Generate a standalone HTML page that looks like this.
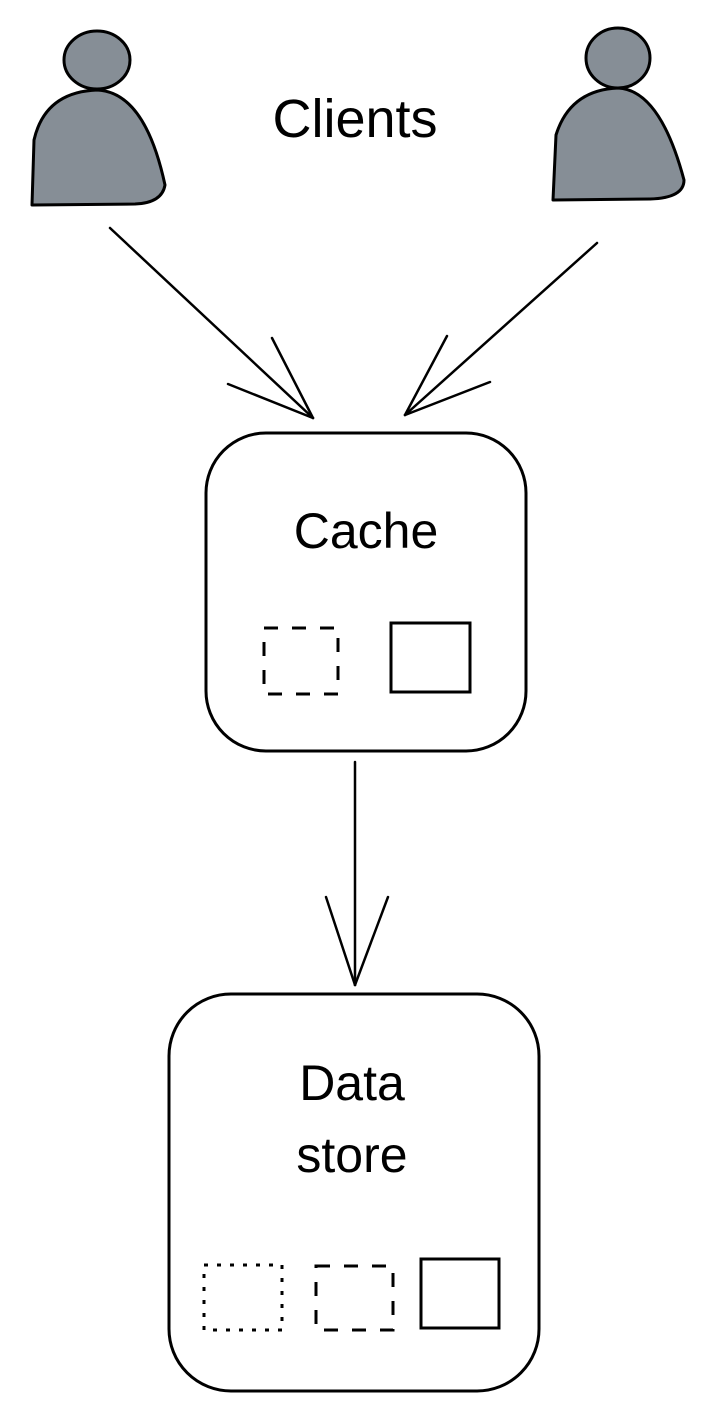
<!DOCTYPE html>
<html><head><meta charset="utf-8"><style>
html,body{margin:0;padding:0;background:#fff}
svg{display:block}
text{font-family:"Liberation Sans",sans-serif;fill:#000}
</style></head><body>
<svg width="714" height="1422" viewBox="0 0 714 1422" xmlns="http://www.w3.org/2000/svg">
<g stroke="#000" stroke-width="3" fill="#868e96" stroke-linecap="round" stroke-linejoin="round">
<!-- left person -->
<ellipse cx="97" cy="60" rx="33" ry="29"/>
<path d="M32 205 L34 140 Q45 92 97 90 Q145 92 165 185 Q162 203 135 204 Z"/>
<!-- right person -->
<ellipse cx="618" cy="58" rx="32" ry="30"/>
<path d="M553 200 L556 135 Q570 90 618 88 Q660 90 684 180 Q684 198 650 199 Z"/>
</g>
<text x="355" y="137" font-size="54" text-anchor="middle">Clients</text>
<g stroke="#000" stroke-width="2.5" fill="none" stroke-linecap="round">
<!-- left arrow -->
<line x1="110" y1="228" x2="313" y2="418"/>
<line x1="313" y1="418" x2="228" y2="384"/>
<line x1="313" y1="418" x2="272" y2="338"/>
<!-- right arrow -->
<line x1="597" y1="243" x2="405" y2="415"/>
<line x1="405" y1="415" x2="490" y2="382"/>
<line x1="405" y1="415" x2="447" y2="336"/>
<!-- down arrow -->
<line x1="355" y1="762" x2="355" y2="985"/>
<line x1="355" y1="985" x2="326" y2="897"/>
<line x1="355" y1="985" x2="388" y2="897"/>
</g>
<g stroke="#000" stroke-width="3" fill="none">
<rect x="206" y="433" width="320" height="318" rx="60"/>
<rect x="169" y="994" width="370" height="397" rx="62"/>
</g>
<text x="366" y="548" font-size="50" text-anchor="middle">Cache</text>
<text x="352" y="1100" font-size="50" text-anchor="middle">Data</text>
<text x="352" y="1172" font-size="50" text-anchor="middle">store</text>
<g stroke="#000" stroke-width="3" fill="none">
<rect x="264" y="628" width="74" height="66" stroke-dasharray="14 14"/>
<rect x="391" y="623" width="79" height="69"/>
<rect x="204" y="1265" width="78" height="65" stroke-dasharray="4 9"/>
<rect x="316" y="1266" width="77" height="64" stroke-dasharray="14 14"/>
<rect x="421" y="1259" width="78" height="69"/>
</g>
</svg>
</body></html>
